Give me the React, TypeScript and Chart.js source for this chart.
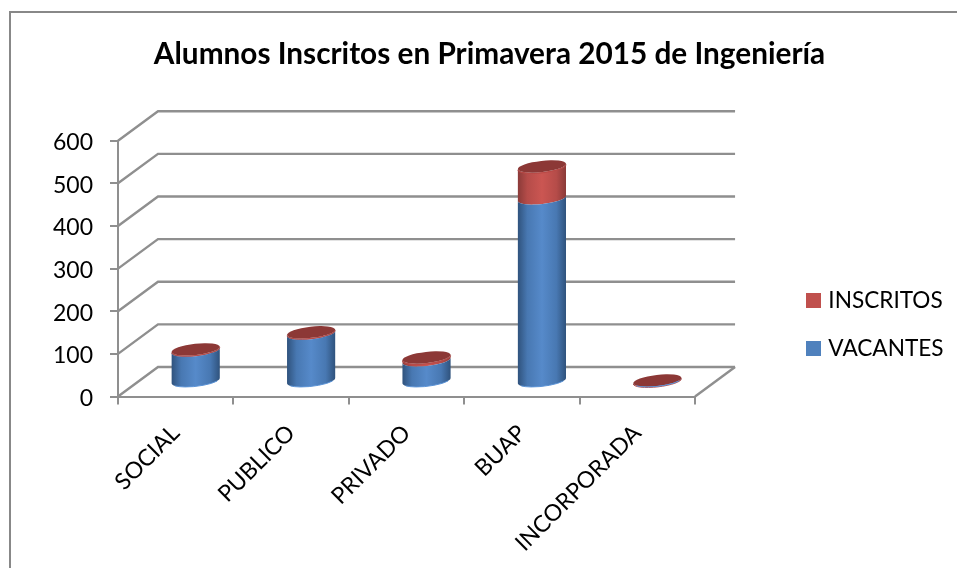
import React, { useEffect, useRef } from "react";
import { Chart, BarController, BarElement, registerables } from "chart.js";

const categories = ["SOCIAL", "PUBLICO", "PRIVADO", "BUAP", "INCORPORADA"];
const vacantes = [73, 113, 50, 430, 2];
const inscritos = [3, 3, 7, 75, 1];
const yTicks = { min: 0, max: 600, step: 100 };

const FONT = "Lato, Carlito, sans-serif";
const GREY = "#8f8f8f";
const DEPTH_X = 40;
const DEPTH_Y = 29.5;
const TILT = (-6.5 * Math.PI) / 180;
const RY = 5.6;

const SHADES: Record<string, (string | null)[]> = {
  "#4f81bd": ["#2f527c", "#4878b2", "#568aca", "#4878b2", "#2f527c", "#5b93d6", null],
  "#c0504d": ["#8a3a38", "#b54c49", "#cb5652", "#b54c49", "#8a3a38", "#b94a47", "#8c3836"],
};

class CylinderElement extends BarElement {
  static id = "cylinder";
  draw(ctx: CanvasRenderingContext2D) {
    const { x, y, base, width } = (this as any).getProps(["x", "y", "base", "width"]);
    const color = (this as any).options.backgroundColor as string;
    const s = SHADES[color] as string[];
    const r = width / 2;
    const cx = x + DEPTH_X / 2;
    const yB = base - DEPTH_Y / 2;
    const yT = y - DEPTH_Y / 2;
    const g = ctx.createLinearGradient(cx - r, 0, cx + r, 0);
    g.addColorStop(0, s[0]);
    g.addColorStop(0.2, s[1]);
    g.addColorStop(0.5, s[2]);
    g.addColorStop(0.8, s[3]);
    g.addColorStop(1, s[4]);
    ctx.save();
    ctx.beginPath();
    ctx.ellipse(cx, yB, r, RY, TILT, 0, Math.PI);
    ctx.ellipse(cx, yT, r, RY, TILT, Math.PI, 0, true);
    ctx.closePath();
    ctx.fillStyle = g;
    ctx.fill();
    if (!s[6]) {
      ctx.beginPath();
      ctx.ellipse(cx, yB, r, RY, TILT, 0.5, Math.PI - 0.5);
      ctx.strokeStyle = s[5];
      ctx.lineWidth = 1;
      ctx.stroke();
    } else {
      ctx.beginPath();
      ctx.ellipse(cx, yT + 0.8, r, RY, TILT, 0, Math.PI);
      ctx.strokeStyle = s[5];
      ctx.lineWidth = 1;
      ctx.stroke();
      ctx.beginPath();
      ctx.ellipse(cx, yT, r, RY, TILT, 0, Math.PI * 2);
      ctx.fillStyle = s[6];
      ctx.fill();
    }
    ctx.restore();
  }
}

class CylinderController extends BarController {
  static id = "cylinder";
  static defaults = { ...(BarController as any).defaults, dataElementType: "cylinder" };
  static overrides = (BarController as any).overrides;
}

Chart.register(...registerables, CylinderElement as any, CylinderController as any);

const wallsPlugin = {
  id: "walls",
  afterLayout(chart: any) {
    const t = chart.titleBlock;
    if (t) {
      t.left = 89.5;
      t.right = 889.5;
    }
    const l = chart.legend;
    if (l) {
      const w = l.width;
      const h = l.height;
      const left = 810 - l.options.labels.padding;
      l.left = left;
      l.right = left + w;
      l.top = 324.5 - h / 2;
      l.bottom = 324.5 + h / 2;
    }
  },
  beforeDatasetsDraw(chart: any) {
    const { ctx, chartArea: a, scales } = chart;
    const yS = scales.y;
    ctx.save();
    ctx.strokeStyle = GREY;
    ctx.lineWidth = 2.4;
    for (let v = yTicks.min; v <= yTicks.max; v += yTicks.step) {
      const p = yS.getPixelForValue(v);
      ctx.beginPath();
      ctx.moveTo(a.left, p);
      ctx.lineTo(a.left + DEPTH_X, p - DEPTH_Y);
      ctx.lineTo(a.right + DEPTH_X, p - DEPTH_Y);
      ctx.stroke();
    }
    const p0 = yS.getPixelForValue(0);
    ctx.beginPath();
    ctx.moveTo(a.right, p0);
    ctx.lineTo(a.right + DEPTH_X, p0 - DEPTH_Y);
    ctx.stroke();
    ctx.restore();
  },
};

export default function App() {
  const ref = useRef<HTMLCanvasElement>(null);
  useEffect(() => {
    const chart = new Chart(ref.current!, {
      type: "cylinder" as any,
      data: {
        labels: categories,
        datasets: [
          { label: "VACANTES", data: vacantes, backgroundColor: "#4f81bd" },
          { label: "INSCRITOS", data: inscritos, backgroundColor: "#c0504d" },
        ],
      },
      options: {
        animation: false,
        responsive: false,
        layout: { padding: { left: 0, right: 93, top: 0, bottom: 0 } },
        datasets: { cylinder: { categoryPercentage: 1, barPercentage: 0.42 } } as any,
        scales: {
          x: {
            type: "category",
            stacked: true,
            offset: true,
            grid: { offset: true, drawOnChartArea: false, drawTicks: true, tickLength: 8, color: GREY, lineWidth: 2 },
            border: { display: true, color: GREY, width: 2 },
            ticks: {
              autoSkip: false,
              maxRotation: 45,
              minRotation: 45,
              color: "#000",
              padding: 15,
              font: { family: FONT, size: 23 },
            },
            afterFit(s: any) {
              s.height = 568 - 396.5;
            },
          },
          y: {
            type: "linear",
            stacked: true,
            min: yTicks.min,
            max: yTicks.max,
            grid: { drawOnChartArea: false, drawTicks: true, tickLength: 8, color: GREY, lineWidth: 2 },
            border: { display: true, color: GREY, width: 2 },
            ticks: {
              stepSize: yTicks.step,
              color: "#000",
              padding: 17,
              labelOffset: 2,
              font: { family: FONT, size: 23 },
            },
            afterFit(s: any) {
              s.width = 118;
            },
          },
        },
        plugins: {
          tooltip: { enabled: false },
          title: {
            display: true,
            text: "Alumnos Inscritos en Primavera 2015 de Ingeniería",
            color: "#000",
            font: { family: FONT, size: 29.75, weight: "bold" },
            padding: { top: 36.3, bottom: 68.7 },
          },
          legend: {
            display: true,
            position: "right",
            reverse: true,
            labels: {
              boxWidth: 7,
              boxHeight: 7,
              padding: 25.4,
              color: "#000",
              font: { family: FONT, size: 22.6 },
              generateLabels(chart: any) {
                const items = Chart.defaults.plugins.legend.labels.generateLabels(chart);
                items.forEach((i: any) => {
                  i.lineWidth = 8;
                  i.strokeStyle = i.fillStyle;
                });
                return items;
              },
            },
          },
        },
      },
      plugins: [wallsPlugin],
    } as any);
    return () => chart.destroy();
  }, []);
  return (
    <div style={{ position: "fixed", left: 0, top: 0, width: 957, height: 568, background: "#fff" }}>
      <div
        style={{
          position: "absolute",
          left: 9,
          top: 11,
          right: 0,
          bottom: 0,
          borderLeft: "2px solid #888",
          borderTop: "2px solid #888",
        }}
      />
      <canvas ref={ref} width={957} height={568} style={{ position: "absolute", left: 0, top: 0, display: "block" }} />
    </div>
  );
}
